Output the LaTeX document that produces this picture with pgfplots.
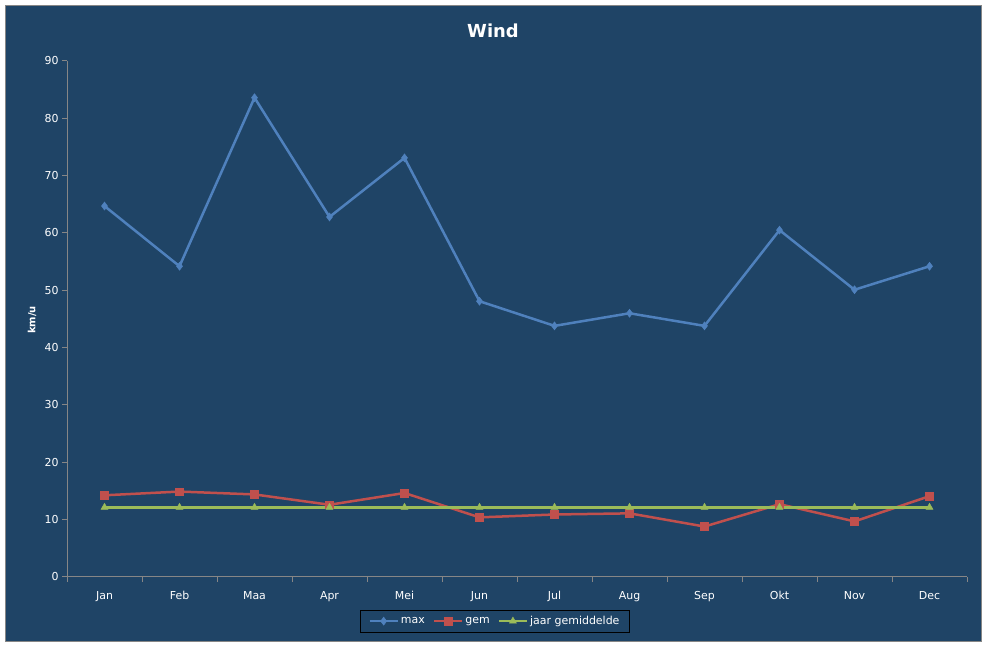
\documentclass[border=0pt]{standalone}
\usepackage{pgfplots}
\pgfplotsset{compat=1.18}
\usepackage{fontspec}
\setmainfont{DejaVu Sans}

\definecolor{bgblue}{HTML}{1F4466}
\definecolor{cmax}{HTML}{4F81BD}
\definecolor{cgem}{HTML}{C0504D}
\definecolor{cjaar}{HTML}{9BBB59}
\definecolor{axgray}{HTML}{868686}

\begin{document}
\begin{tikzpicture}[x=1bp,y=1bp]
  \fill[white] (0,0) rectangle (987,648);
  \fill[bgblue, draw=axgray, line width=1bp] (5,6) rectangle (981,642);
  \node[text=white, font=\fontsize{18}{21}\selectfont\bfseries] at (493,617) {Wind};
  \node[text=white, rotate=90, font=\fontsize{10}{12}\selectfont\bfseries] at (32,328) {km/u};

  \begin{axis}[
      at={(67bp,71bp)}, anchor=south west,
      scale only axis,
      width=900bp, height=516bp,
      xmin=-0.5, xmax=11.5,
      ymin=0, ymax=90,
      axis lines=left,
      axis line style={draw=axgray, line width=1bp, -},
      tick style={draw=axgray, line width=1bp},
      tick align=outside,
      major tick length=5bp,
      xtick={-0.5,0.5,...,11.5},
      x tick label as interval,
      xticklabels={Jan,Feb,Maa,Apr,Mei,Jun,Jul,Aug,Sep,Okt,Nov,Dec},
      ytick={0,10,...,90},
      ticklabel style={text=white, font=\fontsize{11}{13}\selectfont},
      xticklabel style={yshift=-6bp},
      /pgf/number format/assume math mode=true,
      clip=false,
      legend columns=3,
      legend style={
        at={(0.4755,-0.064)}, anchor=north,
        draw=black, fill=bgblue, text=white,
        font=\fontsize{11}{13}\selectfont,
        inner xsep=8bp, inner ysep=4bp,
        /tikz/every even column/.append style={column sep=6bp},
      },
      legend image code/.code={
        \draw[#1, mark repeat=2, mark phase=2] plot coordinates {(0bp,0bp) (14bp,0bp) (28bp,0bp)};
      },
    ]
    \addplot[color=cmax, line width=2.5bp, mark=diamond*, mark size=4bp, mark options={line width=0.5bp}]
      coordinates {
        (0,64.7)(1,54.2)(2,83.6)(3,62.8)(4,73.1)(5,48.1)
        (6,43.8)(7,46.0)(8,43.8)(9,60.5)(10,50.1)(11,54.2)
      };
    \addplot[color=cgem, line width=2.5bp, mark=square*, mark size=3.8bp, mark options={line width=0.5bp}]
      coordinates {
        (0,14.25)(1,14.9)(2,14.4)(3,12.6)(4,14.65)(5,10.4)
        (6,10.9)(7,11.1)(8,8.8)(9,12.7)(10,9.7)(11,14.1)
      };
    \addplot[color=cjaar, line width=2.5bp, mark=triangle*, mark size=4bp, mark options={line width=0.5bp}]
      coordinates {
        (0,12.15)(1,12.15)(2,12.15)(3,12.15)(4,12.15)(5,12.15)
        (6,12.15)(7,12.15)(8,12.15)(9,12.15)(10,12.15)(11,12.15)
      };
    \legend{max,gem,jaar gemiddelde}
  \end{axis}
\end{tikzpicture}
\end{document}
